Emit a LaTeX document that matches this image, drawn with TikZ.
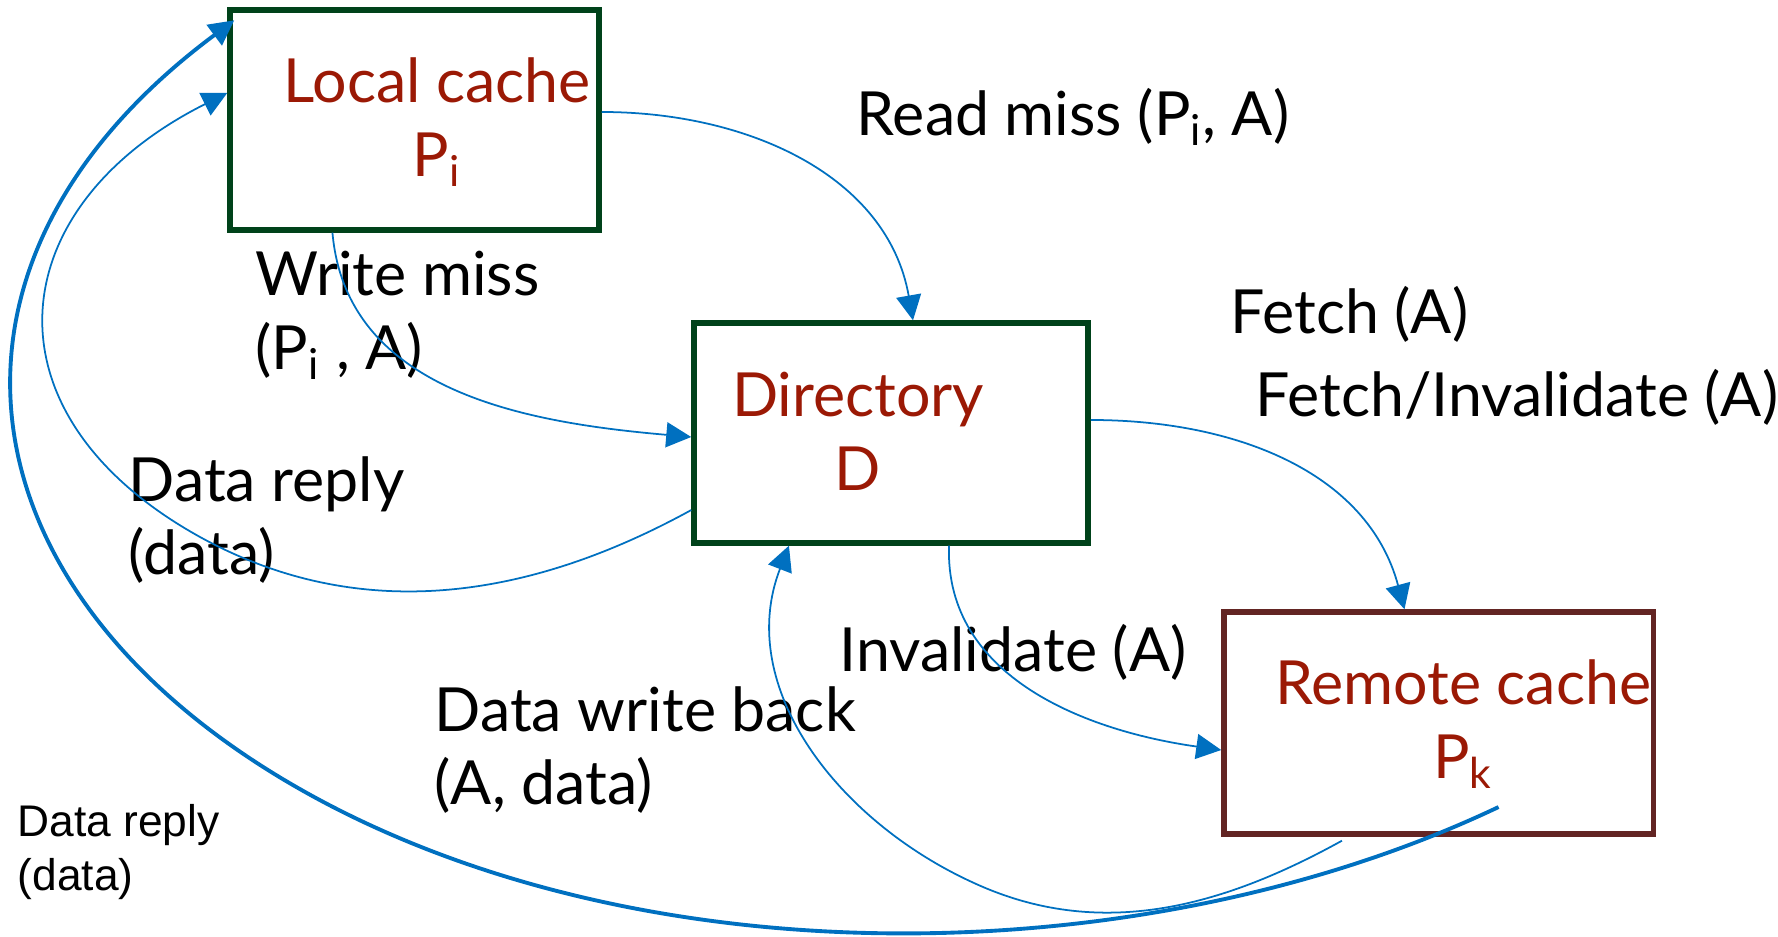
\documentclass[tikz,border=0pt]{standalone}
\usepackage{fontspec}
\setmainfont{Lato}
\newfontfamily\arialfont{Liberation Sans}
\usepackage{xcolor}
\usetikzlibrary{arrows.meta,positioning,calc}

\definecolor{arrowblue}{HTML}{0070C0}
\definecolor{boxgreen}{RGB}{0,66,26}
\definecolor{boxbrown}{RGB}{99,37,35}
\definecolor{textred}{RGB}{155,25,5}

\begin{document}
\begin{tikzpicture}[
    x=0.01cm, y=0.01cm,
    cachebox/.style={rectangle, draw=boxgreen, line width=1.5pt, minimum height=2.2cm, inner sep=0},
    remotebox/.style={cachebox, draw=boxbrown},
    boxtext/.style={text=textred, align=center, inner sep=0, font=\fontsize{17.3}{21}\selectfont},
    msg/.style={anchor=west, align=left, inner sep=0, font=\fontsize{17.3}{21}\selectfont},
    smallmsg/.style={msg, font=\arialfont\fontsize{12.6}{15.6}\selectfont},
    line/.style={draw=arrowblue, line width=0.5pt, -{Triangle[length=0.25cm,width=0.25cm]}},
    thickline/.style={line, line width=1.1pt}
]
    \useasboundingbox (0,0) rectangle (1778,-937);

    % boxes
    \node [cachebox, minimum width=3.69cm] (local) at (414.5,-120) {};
    \node [cachebox, minimum width=3.94cm] (dir) at (891,-433) {};
    \node [remotebox, minimum width=4.29cm, minimum height=2.22cm] (remote) at (1438.5,-723) {};

    \node [boxtext] (localtxt) at (437,-122) {Local cache\\P\textsubscript{i}};
    \node [boxtext] (dirtxt) at (858,-431) {Directory\\D};
    \node [boxtext] (remotetxt) at (1463,-724) {Remote cache\\P\textsubscript{k}};

    % message labels
    \node [msg] (readlbl) at (856,-117) {Read miss (P\textsubscript{i}, A)};
    \node [msg] (writelbl) at (255,-315) {Write miss\\(P\textsubscript{i} , A)};
    \node [msg] (fetchlbl) at (1230,-314) {Fetch (A)};
    \node [msg] (fetchinvlbl) at (1255,-397) {Fetch/Invalidate (A)};
    \node [msg] (replylbl) at (128,-520) {Data reply\\(data)};
    \node [msg] (invlbl) at (839,-652) {Invalidate (A)};
    \node [msg] (wblbl) at (434,-750) {Data write back\\(A, data)};
    \node [smallmsg] (smallreply) at (17,-852) {Data reply\\(data)};

    % connectors
    \path [line] ([yshift=0.08cm]local.east) to[out=0, in=100] ([xshift=0.22cm]dir.north);
    \path [line] ([xshift=-0.82cm]local.south) to[out=-85, in=175] ([yshift=-0.04cm]dir.west);
    \path [line] ([yshift=-0.77cm]dir.west) .. controls (531,-598) and (362,-626) .. (200,-537)
        .. controls (-22,-414) and (0,-207) .. ([yshift=0.27cm]local.west);
    \path [line] ([yshift=0.13cm]dir.east) to[out=0, in=105] ([xshift=-0.34cm]remote.north);
    \path [line] ([xshift=0.58cm]dir.south) to[out=-92, in=172] ([yshift=-0.27cm]remote.west);
    \path [line] ([xshift=-0.965cm,yshift=-0.04cm]remote.south) .. controls (1222,-907) and (1100,-941) .. (974,-883)
        .. controls (837.5,-821) and (734.4,-686.5) .. ([xshift=-1.02cm]dir.south);
    \path [thickline] ([shift={(0.6cm,-0.84cm)}]remote.center) .. controls (1155,-970) and (671,-981) .. (333,-807)
        .. controls (-41,-614) and (-103,-271) .. ([shift={(0.07cm,-0.13cm)}]local.north west);
\end{tikzpicture}
\end{document}
